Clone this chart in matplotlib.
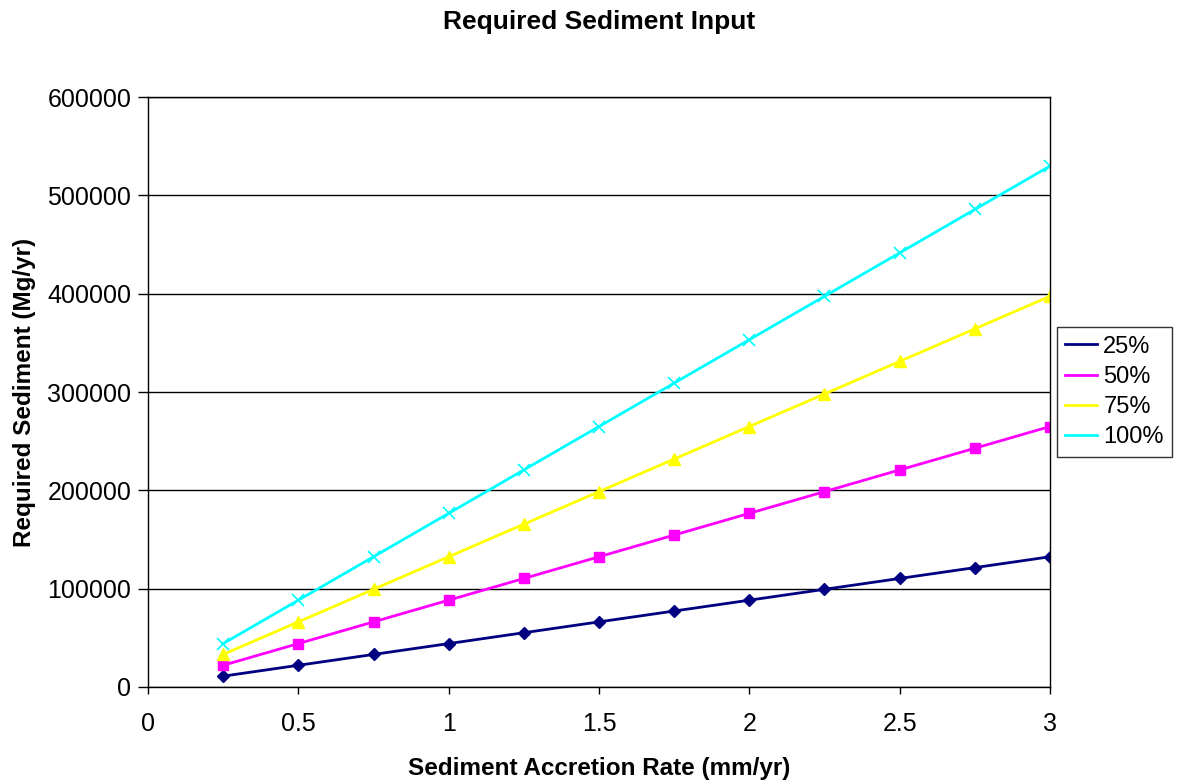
import numpy as np
import matplotlib
matplotlib.use("Agg")
import matplotlib.pyplot as plt

plt.rcParams['font.family'] = ['Liberation Sans', 'DejaVu Sans']

# Sediment accretion rate (mm/yr)
rate = [0.25, 0.5, 0.75, 1.0, 1.25, 1.5, 1.75, 2.0, 2.25, 2.5, 2.75, 3.0]

# Required sediment (Mg/yr) for each scenario
sed_25 = [11040, 22075, 33110, 44150, 55190, 66225, 77260, 88300, 99340, 110375, 121410, 132450]
sed_50 = [22075, 44150, 66225, 88300, 110375, 132450, 154525, 176600, 198675, 220750, 242825, 264900]
sed_75 = [33110, 66230, 99340, 132450, 165560, 198680, 231790, 264900, 298010, 331130, 364240, 397350]
sed_100 = [44150, 88300, 132450, 176600, 220750, 264900, 309050, 353200, 397350, 441500, 485650, 529800]

labels = ['25%', '50%', '75%', '100%']

fig = plt.figure(figsize=(11.8, 7.8), dpi=100)
ax = fig.add_axes([148/1180, 1-687/780, (1050-148)/1180, (687-97)/780])

# Excel-like styles
ax.plot(rate, sed_25, color='#000080', marker='D', markersize=6, lw=2, label=labels[0])
ax.plot(rate, sed_50, color='#FF00FF', marker='s', markersize=7.5, lw=2, label=labels[1])
ax.plot(rate, sed_75, color='#FFFF00', marker='^', markersize=8, lw=2, label=labels[2])
ax.plot(rate, sed_100, color='#00FFFF', marker='x', markersize=8, mew=1.2, lw=2, label=labels[3])

ax.set_xlim(0, 3)
ax.set_ylim(0, 600000)
ax.set_xticks(np.arange(0, 3.01, 0.5))
ax.set_xticklabels(['0', '0.5', '1', '1.5', '2', '2.5', '3'])
ax.set_yticks(np.arange(0, 600001, 100000))
ax.yaxis.grid(True, color='black', lw=1)
ax.set_axisbelow(True)
for s in ax.spines.values():
    s.set_color('black')
    s.set_linewidth(1)
ax.tick_params(direction='out', width=1, labelsize=18)
ax.tick_params(axis='y', length=7, pad=5)
ax.tick_params(axis='x', length=5, pad=13)

fig.text(0.5 * (148 + 1050) / 1180, 1 - 22/780, 'Required Sediment Input',
         fontsize=19, fontweight='bold', ha='center', va='center')
ax.set_xlabel('Sediment Accretion Rate (mm/yr)', fontsize=17.5, fontweight='bold', labelpad=15)
ax.set_ylabel('Required Sediment (Mg/yr)', fontsize=17.5, fontweight='bold', labelpad=8)

leg = ax.legend(loc='center left', bbox_to_anchor=(1.008, 0.5), fontsize=17,
                frameon=True, fancybox=False, edgecolor='black', borderaxespad=0,
                handlelength=1.35, labelspacing=0.35, borderpad=0.35, handletextpad=0.25)
leg.get_frame().set_linewidth(1)
for h in leg.get_lines():
    h.set_marker('')

fig.savefig('out.png', dpi=100)
